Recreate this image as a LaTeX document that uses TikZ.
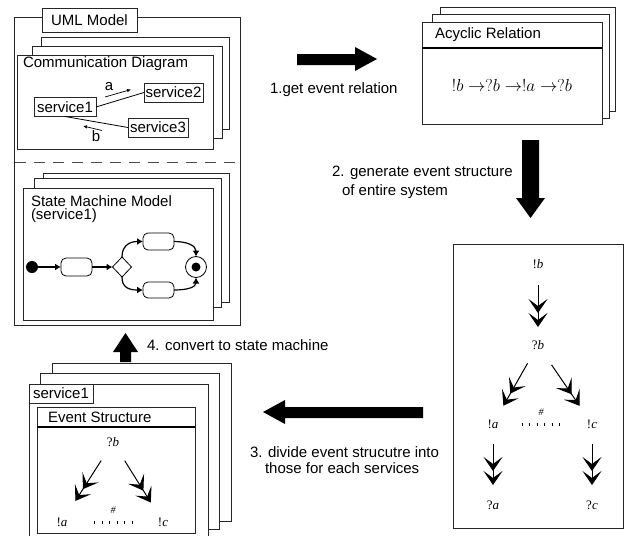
\documentclass[tikz,border=0pt]{standalone}
\usepackage{fontspec}
\setmainfont{Liberation Sans}
\newfontfamily\tms{Liberation Serif}
\usetikzlibrary{arrows.meta,shapes.geometric,calc}

\begin{document}
\begin{tikzpicture}[x=1pt,y=-1pt,
  every node/.style={font=\fontsize{15}{17}\selectfont, inner sep=0pt, outer sep=0pt},
  frame/.style={draw=black!85, line width=0.8pt, fill=white},
  header/.style={draw=black, line width=1.6pt},
  bigarrow/.style={fill=black, draw=none},
  es/.style={font=\fontsize{13}{15}\selectfont\tms},
  excl/.style={font=\fontsize{10}{12}\selectfont\tms\itshape},
  conflict/.style={line width=3pt, dash pattern=on 0.9pt off 6.6pt},
  esarrow/.style={line width=1pt,
    -{Stealth[length=14pt,width=19pt,inset=7pt] Stealth[length=14pt,width=19pt,inset=7pt]}},
  smarrow/.style={line width=1.2pt, -{Latex[length=6pt,width=7pt]}},
  msgarrow/.style={line width=0.7pt, -{Latex[length=4pt,width=3.5pt]}},
  state/.style={draw, line width=0.8pt, rounded corners=5pt, fill=white},
  svc/.style={draw=black!85, line width=0.8pt, fill=white, minimum height=19pt}
]
\clip (0,0) rectangle (628,535);
\fill[white] (0,0) rectangle (628,535);

% ---------------- UML model ----------------
\draw[frame] (14.5,17.5) rectangle (240,325);
\node[draw=black!85, line width=0.8pt, fill=white, minimum width=95pt, minimum height=24pt,
      anchor=north west] (umltab) at (42,8) {UML Model};

% communication diagram stack
\draw[frame] (41,37) rectangle (229,129);
\draw[frame] (32,46) rectangle (222,138);
\draw[frame] (17,55) rectangle (213,149);
\node[anchor=west] (commtitle) at (23,64) {Communication Diagram};

\node[svc, minimum width=62pt] (s1) at (65,107) {service1};
\node[svc, minimum width=59pt] (s2) at (173.5,92.5) {service2};
\node[svc, minimum width=60pt] (s3) at (158,127.5) {service3};
\draw[line width=0.8pt] (s1.east) -- (s2.west);
\draw[line width=0.8pt] (s1.south) -- (s3.west);

\coordinate (ma0) at (105,97);
\coordinate (ma1) at (131,89.5);
\draw[msgarrow] (ma0) -- (ma1);
\node (la) at (109,87) {a};
\coordinate (mb0) at (102,130.5);
\coordinate (mb1) at (83,126);
\draw[msgarrow] (mb0) -- (mb1);
\node (lb) at (96,136) {b};

% separator between the two views
\draw[black!70, line width=0.8pt, dash pattern=on 11pt off 8pt] (14.5,162) -- (240,162);

% state machine stack
\draw[frame] (43,173) rectangle (229,302);
\draw[frame] (34,178) rectangle (221,307);
\draw[frame] (23,188) rectangle (213,320);
\node[anchor=west] (smtitle) at (31,201) {State Machine Model};
\node[anchor=west] (smsub) at (31,216) {(service1)};

\node[circle, fill=black, minimum size=12pt] (init) at (32,267) {};
\node[state, minimum width=31pt, minimum height=18pt] (r1) at (76.5,267) {};
\node[diamond, draw, line width=0.8pt, fill=white, minimum width=19pt, minimum height=20pt] (dec) at (122,267) {};
\node[state, minimum width=31pt, minimum height=17pt] (r2) at (158.5,241.5) {};
\node[state, minimum width=31pt, minimum height=16pt] (r3) at (158.5,290) {};
\node[circle, draw, line width=0.8pt, minimum size=21pt] (fin) at (196,267) {};
\node[circle, fill=black, minimum size=9pt] (fincore) at (fin) {};

\draw[smarrow] (init) -- (r1);
\draw[smarrow] (r1) -- (dec);
\draw[smarrow] (dec.north) .. controls (122,247) and (128,241.5) .. (r2.west);
\draw[smarrow] (dec.south) .. controls (122,287) and (128,290) .. (r3.west);
\draw[smarrow] (r2.east) .. controls (188,241.5) and (196,246) .. (fin.north);
\draw[smarrow] (r3.east) .. controls (188,290) and (196,287) .. (fin.south);

% ---------------- acyclic relation ----------------
\draw[frame] (440,7) rectangle (615,111);
\draw[frame] (432,14) rectangle (609,118);
\draw[frame] (422,22) rectangle (602,124);
\draw[header] (422,48) -- (602,48);
\node[anchor=west] (acytitle) at (435,35) {Acyclic Relation};
\node[font=\fontsize{17}{19}\selectfont] (acyrel) at (512,85)
  {$!b$ $\rightarrow$$?b$ $\rightarrow$$!a$ $\rightarrow$$?b$};

% ---------------- event structure of the whole system ----------------
\draw[frame] (453,244) rectangle (623,528);
\node[es] (gb1) at (538,264) {!\textit{b}};
\node[es] (gb2) at (538,345) {?\textit{b}};
\node[es] (ga1) at (493,424) {!\textit{a}};
\node[es] (gc1) at (592,424) {!\textit{c}};
\node[es] (ga2) at (493,505) {?\textit{a}};
\node[es] (gc2) at (592,505) {?\textit{c}};
\node[excl] (gx) at (541,412) {\#};
\draw[esarrow, shorten <=21pt, shorten >=18pt] (gb1.center) -- (gb2.center);
\draw[esarrow, shorten <=21pt, shorten >=21pt] (gb2.center) -- (ga1.center);
\draw[esarrow, shorten <=24pt, shorten >=22pt] (gb2.center) -- (gc1.center);
\draw[esarrow, shorten <=20pt, shorten >=20pt] (ga1.center) -- (ga2.center);
\draw[esarrow, shorten <=20pt, shorten >=20pt] (gc1.center) -- (gc2.center);
\draw[conflict, shorten <=28.5pt, shorten >=31pt] (ga1.center) -- (gc1.center);

% ---------------- per-service event structures ----------------
\draw[frame] (52,363) rectangle (231,521);
\draw[frame] (40,373) rectangle (219,529);
\draw[frame] (29,384) rectangle (208,545);
\node[draw=black!85, line width=0.8pt, fill=white, minimum width=64pt, minimum height=19pt,
      anchor=north west] (svctab) at (29,384) {service1};
\draw[frame] (37,407) rectangle (195,533);
\draw[header] (37,427) -- (195,427);
\node[anchor=west] (estitle) at (48,417) {Event Structure};
\node[es] (lb2) at (113,442) {?\textit{b}};
\node[es] (la1) at (62,522) {!\textit{a}};
\node[es] (lc1) at (163,522) {!\textit{c}};
\node[excl] (lx) at (113,510) {\#};
\draw[esarrow, shorten <=22pt, shorten >=25pt] (lb2.center) -- (la1.center);
\draw[esarrow, shorten <=22pt, shorten >=23pt] (lb2.center) -- (lc1.center);
\draw[conflict, shorten <=32pt, shorten >=30pt] (la1.center) -- (lc1.center);

% ---------------- process arrows and their labels ----------------
% 1
\fill[bigarrow] (297,54) -- (355,54) -- (355,47) -- (377,59) -- (355,71) -- (355,65) -- (297,65) -- cycle;
\node[anchor=west] (step1) at (270,90) {1.get event relation};
% 2
\fill[bigarrow] (522,140) -- (539,140) -- (539,198) -- (545,198) -- (530.5,218) -- (516,198) -- (522,198) -- cycle;
\node[anchor=west] (step2a) at (332,173) {2. generate event structure};
\node[anchor=west] (step2b) at (342,192) {of entire system};
% 3
\fill[bigarrow] (423,407) -- (285,407) -- (285,400) -- (263,412) -- (285,424) -- (285,418) -- (423,418) -- cycle;
\node[anchor=west] (step3a) at (250,452) {3. divide event strucutre into};
\node[anchor=west] (step3b) at (265,468) {those for each services};
% 4
\fill[bigarrow] (120,362) -- (120,352) -- (113,352) -- (125.5,333) -- (138,352) -- (131,352) -- (131,362) -- cycle;
\node[anchor=west] (step4) at (147,345) {4. convert to state machine};
\end{tikzpicture}
\end{document}
